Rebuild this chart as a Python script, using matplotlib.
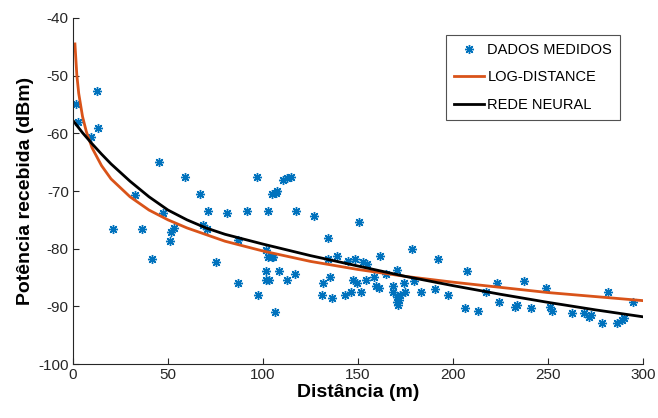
import matplotlib
matplotlib.use("Agg")
import matplotlib.pyplot as plt
import numpy as np

# measured samples (distance in m, received power in dBm)
dist_med = [1.3, 2.4, 12.4, 13.4, 9.2, 45.0, 59.2, 32.4, 66.6, 97.1,
            110.3, 112.9, 115.0, 104.5, 107.1, 107.6, 21.3, 36.1, 47.6, 51.8,
            53.4, 50.8, 41.8, 71.3, 80.8, 91.8, 102.9, 117.6, 126.6, 150.8,
            68.2, 70.3, 86.6, 75.5, 86.6, 97.6, 106.1, 101.8, 102.4, 104.5,
            105.5, 101.8, 108.2, 117.1, 101.8, 103.4, 112.4, 134.0, 134.0, 139.2,
            144.5, 148.7, 152.4, 155.0, 161.8, 178.7, 165.0, 170.3, 135.5, 131.8,
            131.3, 136.6, 143.4, 146.1, 147.6, 149.7, 151.8, 154.5, 158.2, 159.7,
            161.3, 168.2, 168.7, 174.0, 175.0, 179.7, 183.4, 170.3, 171.8, 170.3,
            171.3, 172.4, 192.4, 207.6, 223.4, 237.6, 190.8, 197.6, 217.6, 224.5,
            206.6, 213.4, 232.9, 233.9, 241.3, 249.2, 251.3, 252.4, 262.9, 269.2,
            271.8, 272.9, 278.7, 286.6, 289.2, 290.3, 281.8, 295.0]
pot_med = [-54.9, -58.0, -52.7, -59.1, -60.6, -65.0, -67.6, -70.7, -70.5, -67.6,
           -68.1, -67.7, -67.6, -70.5, -70.3, -70.0, -76.6, -76.6, -73.8, -77.1,
           -76.4, -78.7, -81.8, -73.5, -73.8, -73.5, -73.5, -73.5, -74.3, -75.4,
           -75.9, -76.6, -78.5, -82.3, -86.0, -88.0, -91.0, -80.2, -81.4, -81.4,
           -81.4, -83.9, -83.9, -84.4, -85.4, -85.4, -85.4, -78.1, -81.8, -81.3,
           -82.1, -81.8, -82.3, -82.7, -81.3, -80.1, -84.4, -83.7, -84.9, -86.0,
           -88.0, -88.6, -88.0, -87.5, -85.4, -86.0, -87.5, -85.4, -84.9, -86.5,
           -86.8, -86.5, -87.5, -86.0, -87.5, -85.6, -87.5, -88.4, -88.9, -89.2,
           -89.8, -88.0, -81.8, -83.9, -86.0, -85.6, -87.0, -88.0, -87.5, -89.2,
           -90.3, -90.8, -90.1, -89.8, -90.3, -86.8, -90.1, -90.8, -91.2, -91.2,
           -91.8, -91.5, -92.9, -92.9, -92.4, -92.0, -87.5, -89.2]

# log-distance curve
dist_log = [1, 2, 3, 5, 7, 10, 15, 20, 30, 40, 50, 60, 80, 100,
            125, 150, 175, 200, 225, 250, 275, 300]
pot_log = [-44.5, -49.9, -53.1, -57.1, -59.7, -62.5, -65.6, -67.9, -71.0, -73.3,
           -75.0, -76.4, -78.7, -80.4, -82.2, -83.6, -84.8, -85.8, -86.7, -87.6,
           -88.3, -89.0]

# neural network curve
dist_rn = [0.5, 5, 10, 15, 20, 30, 40, 50, 60, 70, 80, 100,
           125, 150, 175, 200, 225, 250, 275, 300]
pot_rn = [-58.0, -59.9, -61.8, -63.6, -65.3, -68.3, -71.0, -73.3, -75.0, -76.4,
          -77.5, -79.2, -81.2, -83.0, -84.8, -86.4, -87.9, -89.3, -90.6, -91.8]

plt.rcParams["font.family"] = ["Liberation Sans", "DejaVu Sans"]
plt.rcParams["axes.unicode_minus"] = False

fig = plt.figure(figsize=(6.58, 4.18), dpi=100)
ax = fig.add_axes([0.111, 0.129, 0.866, 0.828])

ax.plot(dist_med, pot_med, linestyle="none", marker=(8, 2, 0), markersize=6.5,
        markeredgewidth=1.0, color="#0072BD", label="DADOS MEDIDOS")
ax.plot(dist_log, pot_log, color="#D95319", linewidth=2.0, label="LOG-DISTANCE")
ax.plot(dist_rn, pot_rn, color="black", linewidth=2.0, label="REDE NEURAL")

ax.set_xlim(0, 300)
ax.set_ylim(-100, -40)
ax.set_xticks(np.arange(0, 301, 50))
ax.set_yticks(np.arange(-100, -39, 10))
ax.tick_params(direction="in", length=4, labelsize=11, colors="#262626", pad=3)
for s in ["top", "right"]:
    ax.spines[s].set_visible(False)
for s in ["left", "bottom"]:
    ax.spines[s].set_color("#262626")
    ax.spines[s].set_linewidth(0.8)

ax.set_xlabel("Distância (m)", fontsize=14, fontweight="bold", labelpad=1)
ax.set_ylabel("Potência recebida (dBm)", fontsize=14, fontweight="bold", labelpad=3)

leg = ax.legend(loc="upper right", bbox_to_anchor=(0.96, 0.951),
                fontsize=10.5, frameon=True, fancybox=False, handlelength=2.0,
                handletextpad=0.25, borderpad=0.55, labelspacing=0.92,
                borderaxespad=0)
leg.get_frame().set_edgecolor("#262626")
leg.get_frame().set_linewidth(0.8)

plt.savefig("out.png", dpi=100)
